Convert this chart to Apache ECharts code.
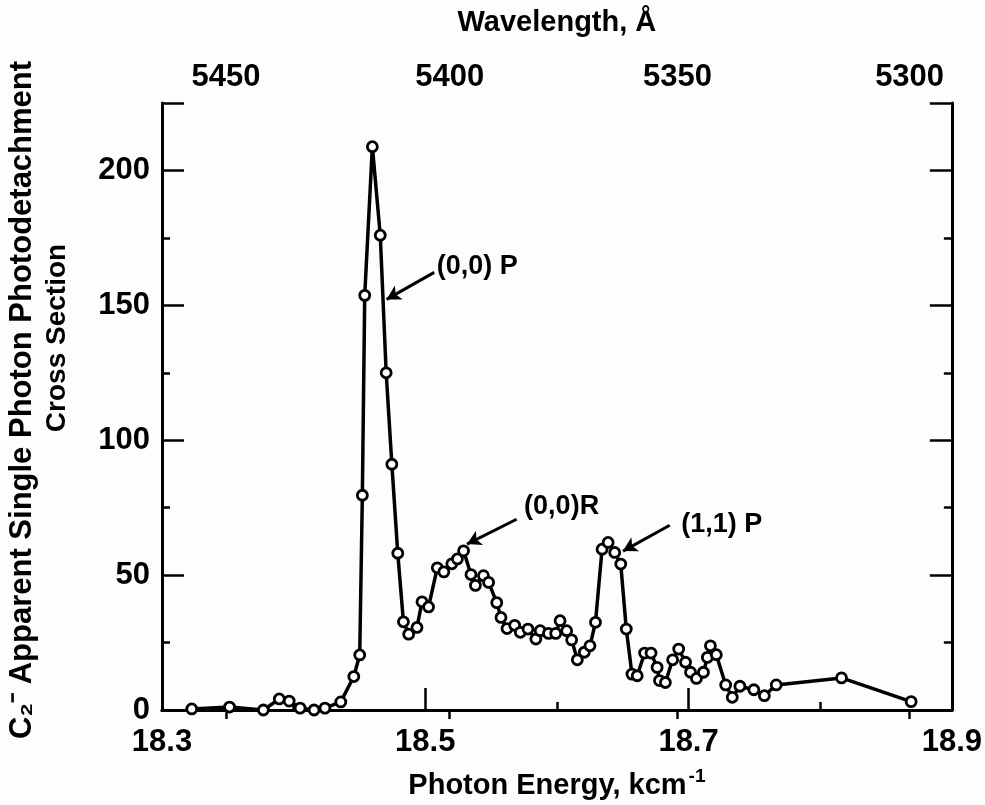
<!DOCTYPE html>
<html>
<head>
<meta charset="utf-8">
<script src="https://cdn.jsdelivr.net/npm/echarts@6/dist/echarts.min.js"></script>
<style>
html,body{margin:0;padding:0;background:#fdfdfd;}
#chart{width:985px;height:805px;}
</style>
</head>
<body>
<div id="chart"></div>
<script>
// Photon energy (kcm^-1)
const energy = [18.3226,18.3513,18.3770,18.3891,18.3966,18.4049,18.4155,18.4238,18.4358,18.4457,
  18.4502,18.4522,18.4540,18.4598,18.4658,18.4703,18.4746,18.4791,18.4834,18.4874,
  18.4937,18.4975,18.5025,18.5091,18.5141,18.5202,18.5244,18.5291,18.5347,18.5381,
  18.5442,18.5481,18.5543,18.5575,18.5621,18.5679,18.5722,18.5780,18.5840,18.5873,
  18.5936,18.5991,18.6024,18.6074,18.6112,18.6155,18.6208,18.6251,18.6293,18.6343,
  18.6389,18.6439,18.6485,18.6527,18.6570,18.6610,18.6666,18.6715,18.6761,18.6779,
  18.6824,18.6879,18.6925,18.6977,18.7015,18.7060,18.7113,18.7143,18.7166,18.7211,
  18.7282,18.7332,18.7390,18.7496,18.7576,18.7666,18.8162,18.8691];
// Apparent single photon photodetachment cross section
const crossSection = [0.4,1.1,0,4.1,3.3,0.7,0,0.7,3.0,12.4,
  20.4,79.6,153.7,208.8,176,125,91.1,58.1,32.7,28.1,
  30.6,40.1,38.2,52.7,51.2,54.2,56,59,50.2,46.2,
  49.8,47.3,39.8,34.3,30.2,31.4,28.8,30,26.3,29.4,
  28.4,28.4,33.1,29.4,26,18.6,21.4,23.8,32.5,59.6,
  62.1,58.4,54.1,30,13.3,12.7,21.1,21.1,15.8,10.9,
  10.2,18.6,22.6,17.7,14,11.7,14,19.5,23.8,20.5,
  9.3,4.7,8.8,7.5,5.3,9.3,11.9,3.1];
// Tick labels
const energyTicks = [18.3, 18.5, 18.7, 18.9];
const wavelengthTicks = [5450, 5400, 5350, 5300];
const yTicks = [0, 50, 100, 150, 200];
// Annotations: text, text anchor [E, value], arrow start, arrow end
const annoText = ['(0,0) P', '(0,0)R', '(1,1) P'];
const annoTextAt = [[18.5083, 164.4], [18.5747, 75.6], [18.6940, 68.9]];
const annoFrom = [[18.5068, 162.2], [18.5694, 70.7], [18.6857, 68.5]];
const annoTo = [[18.4706, 152.2], [18.5317, 61.5], [18.6502, 58.9]];

const FONT = 'Liberation Sans';
const black = '#000';
const xMin = 18.3, xMax = 18.9, yMin = 0, yMax = 225;

const chart = echarts.init(document.getElementById('chart'));
const tickLabelStyle = {color: black, fontFamily: FONT, fontWeight: 'bold', fontSize: 31};
const axisLineStyle = {show: true, lineStyle: {color: black, width: 3}};

const option = {
  backgroundColor: '#fdfdfd',
  animation: false,
  grid: {left: 162, right: 29, top: 103, bottom: 94, containLabel: false},
  xAxis: [
    { // main bottom axis
      type: 'value', position: 'bottom', min: xMin, max: xMax, interval: 0.2,
      axisLine: axisLineStyle,
      axisTick: {show: true, inside: true, length: 22, lineStyle: {color: black, width: 2.5}},
      axisLabel: {show: true, margin: 17, ...tickLabelStyle,
        formatter: v => energyTicks.some(t => Math.abs(t - v) < 1e-6) ? v.toFixed(1) : ''},
      splitLine: {show: false},
      name: 'Photon Energy, kcm{sup|-1}', nameLocation: 'middle', nameGap: 57,
      nameTextStyle: {color: black, fontFamily: FONT, fontWeight: 'bold', fontSize: 29,
        rich: {sup: {fontFamily: FONT, fontWeight: 'bold', fontSize: 19, verticalAlign: 'top', padding: [0,0,18,2]}}}
    },
    { // minor ticks bottom
      type: 'value', position: 'bottom', min: xMin, max: xMax, interval: 0.1,
      axisLine: {show: false},
      axisTick: {show: true, inside: true, length: 8, lineStyle: {color: black, width: 2.5}},
      axisLabel: {show: false}, splitLine: {show: false}
    },
    { // top wavelength axis (reciprocal)
      type: 'value', position: 'top', min: xMin, max: xMax,
      axisLine: axisLineStyle,
      axisTick: {show: true, inside: true, length: 9, customValues: wavelengthTicks.map(w => 1e5 / w),
        lineStyle: {color: black, width: 2.5}},
      axisLabel: {show: true, margin: 10, ...tickLabelStyle,
        customValues: wavelengthTicks.map(w => 1e5 / w),
        formatter: v => String(Math.round(1e5 / v))},
      splitLine: {show: false},
      name: 'Wavelength, Å', nameLocation: 'middle', nameGap: 66,
      nameTextStyle: {color: black, fontFamily: FONT, fontWeight: 'bold', fontSize: 29}
    }
  ],
  yAxis: [
    { // main left
      type: 'value', position: 'left', min: yMin, max: yMax, interval: 50,
      axisLine: axisLineStyle,
      axisTick: {show: true, inside: true, length: 22, lineStyle: {color: black, width: 2.5}},
      axisLabel: {show: true, margin: 12, ...tickLabelStyle,
        formatter: v => yTicks.indexOf(v) >= 0 ? String(v) : ''},
      splitLine: {show: false}
    },
    { // minor left
      type: 'value', position: 'left', min: yMin, max: yMax, interval: 25,
      axisLine: {show: false},
      axisTick: {show: true, inside: true, length: 8, lineStyle: {color: black, width: 2.5}},
      axisLabel: {show: false}, splitLine: {show: false}
    },
    { // right major
      type: 'value', position: 'right', min: yMin, max: yMax, interval: 50,
      axisLine: axisLineStyle,
      axisTick: {show: true, inside: true, length: 22, lineStyle: {color: black, width: 2.5}},
      axisLabel: {show: false}, splitLine: {show: false}
    },
    { // right minor
      type: 'value', position: 'right', min: yMin, max: yMax, interval: 25,
      axisLine: {show: false},
      axisTick: {show: true, inside: true, length: 8, lineStyle: {color: black, width: 2.5}},
      axisLabel: {show: false}, splitLine: {show: false}
    }
  ],
  series: [{
    type: 'line', xAxisIndex: 0, yAxisIndex: 0,
    data: energy.map((e, i) => [e, crossSection[i]]),
    symbol: 'circle', symbolSize: 10, showAllSymbol: true,
    itemStyle: {color: '#ffffff', borderColor: black, borderWidth: 2.8},
    lineStyle: {color: black, width: 3.5},
    z: 3,
    markLine: {
      silent: true, symbol: ['none', 'arrow'], symbolSize: [12, 14], precision: 4,
      lineStyle: {color: black, width: 3, type: 'solid'},
      label: {show: false},
      emphasis: {disabled: true},
      data: annoFrom.map((f, i) => [{coord: f}, {coord: annoTo[i]}])
    },
    markPoint: {
      silent: true, symbol: 'circle', symbolSize: 1,
      itemStyle: {color: 'rgba(0,0,0,0)'},
      label: {show: true, position: 'right', distance: 0, color: black,
        fontFamily: FONT, fontWeight: 'bold', fontSize: 27},
      data: annoText.map((t, i) => ({coord: annoTextAt[i], value: t, label: {formatter: t}}))
    }
  }],
  graphic: [
    {type: 'text', x: 22, y: 400, rotation: Math.PI / 2,
      style: {text: 'C₂⁻ Apparent Single Photon Photodetachment', fill: black,
        font: 'bold 31px "Liberation Sans"', align: 'center', verticalAlign: 'middle'}},
    {type: 'text', x: 57, y: 338, rotation: Math.PI / 2,
      style: {text: 'Cross Section', fill: black,
        font: 'bold 28px "Liberation Sans"', align: 'center', verticalAlign: 'middle'}}
  ]
};
chart.setOption(option);
</script>
</body>
</html>
